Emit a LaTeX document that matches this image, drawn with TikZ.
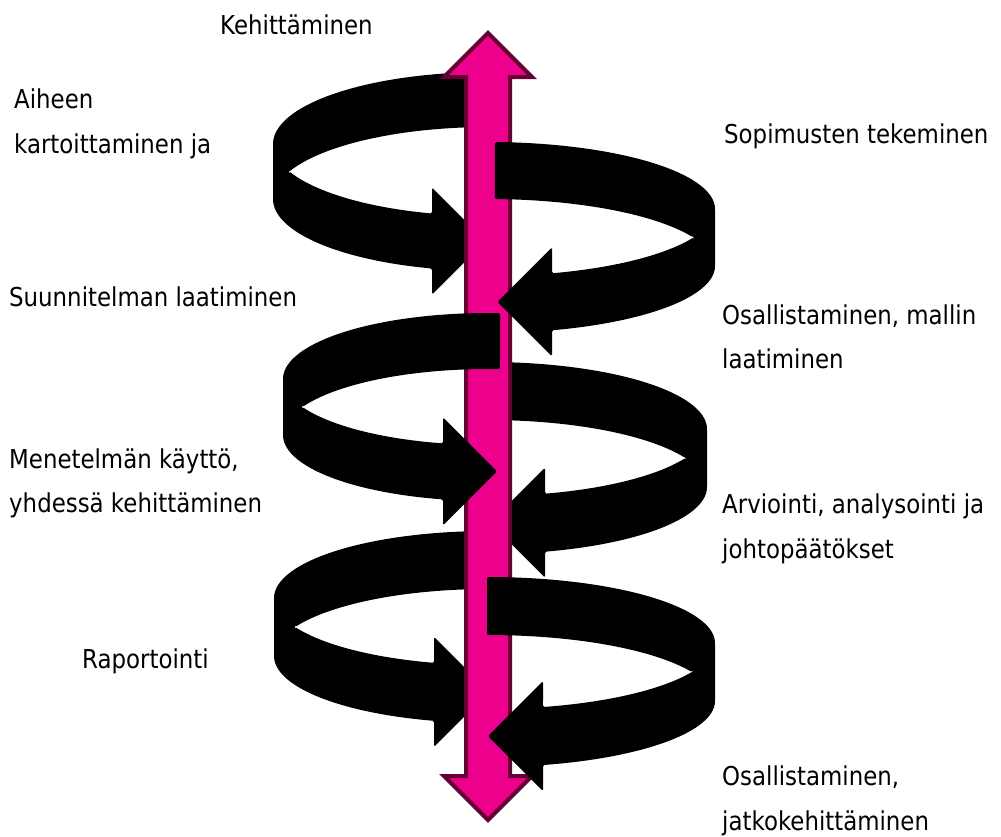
\documentclass[tikz,border=0pt]{standalone}
\usepackage{fontspec}
\setmainfont{DejaVu Sans}[FakeStretch=0.88]
\definecolor{pinkfill}{HTML}{EC008C}
\definecolor{pinkline}{HTML}{660033}
\tikzset{
  bandfill/.style={fill=black, rounded corners=1.5pt},
  lbl/.style={anchor=west, inner sep=0pt, text height=19.5pt, text depth=6.5pt, font=\fontsize{26}{30}\selectfont},
  bigarrow/.style={fill=pinkfill, draw=pinkline, line width=4pt, line join=miter}
}
% #1 cx, #2 cy, #3 rx, #4 ry, #5 h, #6 xback, #7 xbase, #8 barb
\newcommand{\leftband}[8]{%
  \pgfmathsetmacro\bTzero{360-acos((#6-#1)/#3)}%
  \pgfmathsetmacro\bTone{acos((#7-#1)/#3)}%
  \pgfmathsetmacro\bTc{180-asin(#5/(2*#4))}%
  \pgfmathsetmacro\bTcp{180+asin(#5/(2*#4))}%
  \pgfmathsetmacro\bYU{#2+#4*sin(\bTone)}%
  \pgfmathsetmacro\bYL{\bYU+#5}%
  \pgfmathsetmacro\bYM{\bYU+#5/2}%
  \pgfmathsetmacro\bXT{#7+#5/2+#8}%
  \fill[bandfill] plot[domain=\bTzero:180,samples=60] ({#1+#3*cos(\x)},{#2+#4*sin(\x)})
    -- plot[domain=180:\bTone,samples=60] ({#1+#3*cos(\x)},{#2+#5+#4*sin(\x)})
    -- (#7,\bYL+#8) -- (\bXT,\bYM) -- (#7,\bYU-#8)
    -- plot[domain=\bTone:\bTc,samples=40] ({#1+#3*cos(\x)},{#2+#4*sin(\x)})
    -- plot[domain=\bTcp:\bTzero,samples=40] ({#1+#3*cos(\x)},{#2+#5+#4*sin(\x)})
    -- cycle;
}
\newcommand{\rightband}[8]{%
  \pgfmathsetmacro\bTzero{360-acos((#6-#1)/#3)}%
  \pgfmathsetmacro\bTone{acos((#7-#1)/#3)}%
  \pgfmathsetmacro\bTonep{360+\bTone}%
  \pgfmathsetmacro\bTc{asin(#5/(2*#4))}%
  \pgfmathsetmacro\bTcp{360-asin(#5/(2*#4))}%
  \pgfmathsetmacro\bYU{#2+#4*sin(\bTone)}%
  \pgfmathsetmacro\bYL{\bYU+#5}%
  \pgfmathsetmacro\bYM{\bYU+#5/2}%
  \pgfmathsetmacro\bXT{#7-#5/2-#8}%
  \fill[bandfill] plot[domain=\bTzero:360,samples=60] ({#1+#3*cos(\x)},{#2+#4*sin(\x)})
    -- plot[domain=360:\bTonep,samples=60] ({#1+#3*cos(\x)},{#2+#5+#4*sin(\x)})
    -- (#7,\bYL+#8) -- (\bXT,\bYM) -- (#7,\bYU-#8)
    -- plot[domain=\bTone:\bTc,samples=40] ({#1+#3*cos(\x)},{#2+#4*sin(\x)})
    -- plot[domain=\bTcp:\bTzero,samples=40] ({#1+#3*cos(\x)},{#2+#5+#4*sin(\x)})
    -- cycle;
}
\begin{document}
\begin{tikzpicture}[x=1pt,y=-1pt]
\useasboundingbox[fill=white] (0,0) rectangle (1001,836);
% bands behind the axis
\leftband{488}{144}{215}{72}{55}{488}{432}{26}
\rightband{488}{429}{219}{67}{58}{488}{545}{26}
\leftband{488}{598}{214}{67}{58}{488}{434}{26}
% axis double arrow
\draw[bigarrow] (488,33) -- (532,77) -- (510,77) -- (510,776) -- (532,776) -- (488,820)
  -- (444,776) -- (466,776) -- (466,77) -- (444,77) -- cycle;
% bands in front of the axis
\rightband{488}{209}{227}{67}{57}{495}{552}{26}
\leftband{488}{379}{205}{66}{56}{500}{443}{26}
\rightband{488}{643}{227}{66}{58}{487}{543}{26}
% labels
\node[lbl] (kehi) at (220,28) {Kehittäminen};
\node[lbl] (aih1) at (14,102) {Aiheen};
\node[lbl] (aih2) at (14,147) {kartoittaminen ja};
\node[lbl] (sop) at (724,137) {Sopimusten tekeminen};
\node[lbl] (suun) at (9,300) {Suunnitelman laatiminen};
\node[lbl] (osa1) at (722,318) {Osallistaminen, mallin};
\node[lbl] (osa2) at (722,362) {laatiminen};
\node[lbl] (men1) at (9,462) {Menetelmän käyttö,};
\node[lbl] (men2) at (9,506) {yhdessä kehittäminen};
\node[lbl] (arv1) at (722,507) {Arviointi, analysointi ja};
\node[lbl] (arv2) at (722,552) {johtopäätökset};
\node[lbl] (rap) at (82,662) {Raportointi};
\node[lbl] (jat1) at (722,779) {Osallistaminen,};
\node[lbl] (jat2) at (722,824) {jatkokehittäminen};
\end{tikzpicture}
\end{document}
